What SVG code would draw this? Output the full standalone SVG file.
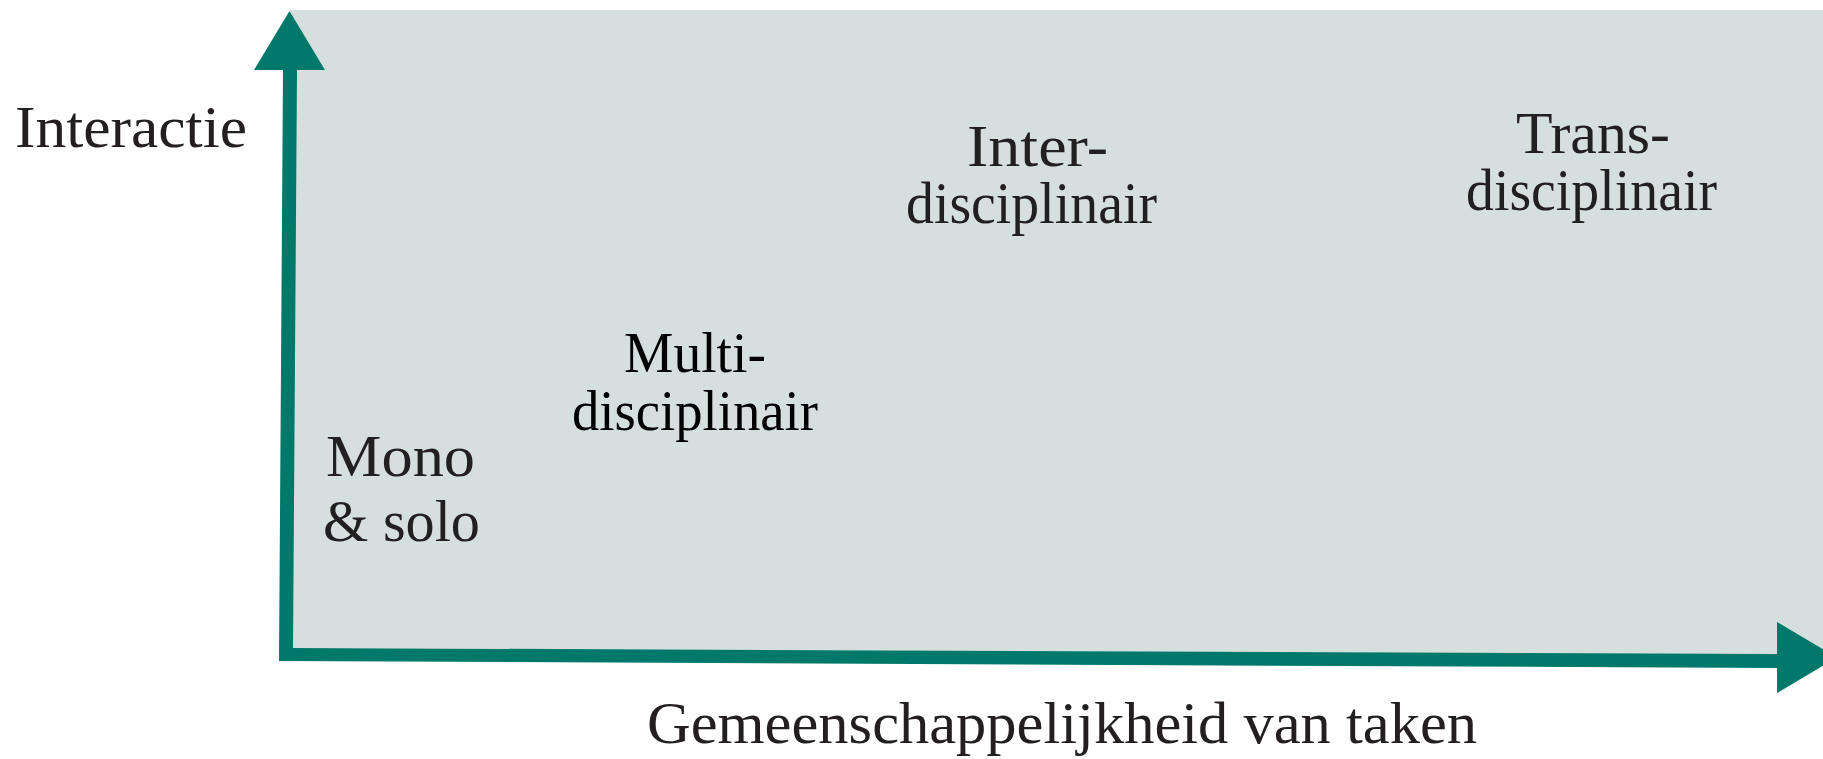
<svg xmlns="http://www.w3.org/2000/svg" width="1823" height="759" viewBox="0 0 1823 759">
  <style>
    .lbl { font-family: "Liberation Serif", "DejaVu Serif", serif; font-size: 59px; fill: #231f20; }
    .multi { font-family: "Liberation Serif", "DejaVu Serif", serif; font-size: 57px; fill: #000000; }
    .axis { fill: #00786a; }
  </style>
  <rect width="1823" height="759" fill="#ffffff"/>

  <!-- quadrant field -->
  <polygon id="field" points="290,10 1823,10 1823,655 290,648" fill="#d5dfde"/>

  <!-- axes -->
  <g id="connectors">
    <polygon class="axis" points="283,70 297,70 293,648 1777,654 1777,668 279,661"/>
    <polygon class="axis" points="254,70 325,70 289.5,11"/>
    <polygon class="axis" points="1777,622 1777,693 1837,657.5"/>
  </g>

  <g id="axis-y-label">
    <text class="lbl" x="15" y="147" textLength="232" lengthAdjust="spacingAndGlyphs">Interactie</text>
  </g>
  <g id="axis-x-label">
    <text class="lbl" x="647" y="743" textLength="830" lengthAdjust="spacingAndGlyphs">Gemeenschappelijkheid van taken</text>
  </g>

  <g id="mono">
    <text class="lbl" x="326" y="476" textLength="149" lengthAdjust="spacingAndGlyphs">Mono</text>
    <text class="lbl" x="323" y="541" textLength="157" lengthAdjust="spacingAndGlyphs">&amp; solo</text>
  </g>
  <g id="multi">
    <text class="multi" x="624" y="372" textLength="142" lengthAdjust="spacingAndGlyphs">Multi-</text>
    <text class="multi" x="572" y="430" textLength="246" lengthAdjust="spacingAndGlyphs">disciplinair</text>
  </g>
  <g id="inter">
    <text class="lbl" x="967" y="166" textLength="141" lengthAdjust="spacingAndGlyphs">Inter-</text>
    <text class="lbl" x="906" y="223" textLength="251" lengthAdjust="spacingAndGlyphs">disciplinair</text>
  </g>
  <g id="trans">
    <text class="lbl" x="1516" y="153" textLength="154" lengthAdjust="spacingAndGlyphs">Trans-</text>
    <text class="lbl" x="1466" y="210" textLength="251" lengthAdjust="spacingAndGlyphs">disciplinair</text>
  </g>
</svg>
